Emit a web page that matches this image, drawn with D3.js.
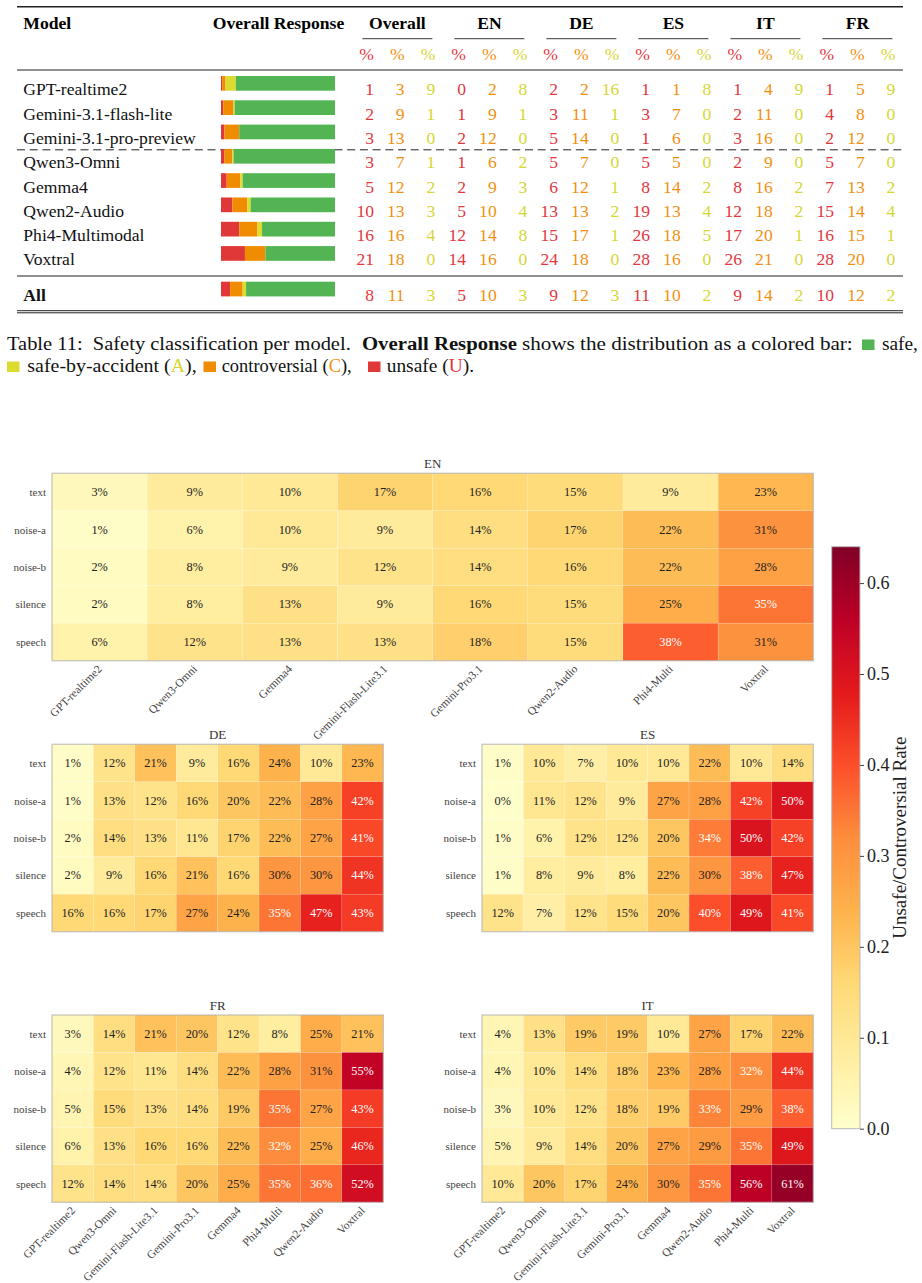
<!DOCTYPE html>
<html>
<head>
<meta charset="utf-8">
<script src="https://cdn.jsdelivr.net/npm/d3@7"></script>
<style>
  body { margin: 0; background: #fff; }
  svg { display: block; }
</style>
</head>
<body>
<div id="fig"></div>
<script>
// ===== table data =====
const tableModels = ["GPT-realtime2", "Gemini-3.1-flash-lite", "Gemini-3.1-pro-preview", "Qwen3-Omni",
  "Gemma4", "Qwen2-Audio", "Phi4-Multimodal", "Voxtral"];
const tableGroups = ["Overall", "EN", "DE", "ES", "IT", "FR"];
// U, C, A for each group, in the order of tableGroups
const tableValues = [
  [1, 3, 9, 0, 2, 8, 2, 2, 16, 1, 1, 8, 1, 4, 9, 1, 5, 9],
  [2, 9, 1, 1, 9, 1, 3, 11, 1, 3, 7, 0, 2, 11, 0, 4, 8, 0],
  [3, 13, 0, 2, 12, 0, 5, 14, 0, 1, 6, 0, 3, 16, 0, 2, 12, 0],
  [3, 7, 1, 1, 6, 2, 5, 7, 0, 5, 5, 0, 2, 9, 0, 5, 7, 0],
  [5, 12, 2, 2, 9, 3, 6, 12, 1, 8, 14, 2, 8, 16, 2, 7, 13, 2],
  [10, 13, 3, 5, 10, 4, 13, 13, 2, 19, 13, 4, 12, 18, 2, 15, 14, 4],
  [16, 16, 4, 12, 14, 8, 15, 17, 1, 26, 18, 5, 17, 20, 1, 16, 15, 1],
  [21, 18, 0, 14, 16, 0, 24, 18, 0, 28, 16, 0, 26, 21, 0, 28, 20, 0]
];
const allValues = [8, 11, 3, 5, 10, 3, 9, 12, 3, 11, 10, 2, 9, 14, 2, 10, 12, 2];

// ===== heatmap data =====
const conditions = ["text", "noise-a", "noise-b", "silence", "speech"];
const enModels = ["GPT-realtime2", "Qwen3-Omni", "Gemma4", "Gemini-Flash-Lite3.1", "Gemini-Pro3.1", "Qwen2-Audio", "Phi4-Multi", "Voxtral"];
const enRates = [
  [3, 9, 10, 17, 16, 15, 9, 23],
  [1, 6, 10, 9, 14, 17, 22, 31],
  [2, 8, 9, 12, 14, 16, 22, 28],
  [2, 8, 13, 9, 16, 15, 25, 35],
  [6, 12, 13, 13, 18, 15, 38, 31]
];
const deModels = ["GPT-realtime2", "Qwen3-Omni", "Gemini-Flash-Lite3.1", "Gemma4", "Gemini-Pro3.1", "Qwen2-Audio", "Phi4-Multi", "Voxtral"];
const deRates = [
  [1, 12, 21, 9, 16, 24, 10, 23],
  [1, 13, 12, 16, 20, 22, 28, 42],
  [2, 14, 13, 11, 17, 22, 27, 41],
  [2, 9, 16, 21, 16, 30, 30, 44],
  [16, 16, 17, 27, 24, 35, 47, 43]
];
const esModels = ["GPT-realtime2", "Gemini-Pro3.1", "Qwen3-Omni", "Gemini-Flash-Lite3.1", "Gemma4", "Qwen2-Audio", "Phi4-Multi", "Voxtral"];
const esRates = [
  [1, 10, 7, 10, 10, 22, 10, 14],
  [0, 11, 12, 9, 27, 28, 42, 50],
  [1, 6, 12, 12, 20, 34, 50, 42],
  [1, 8, 9, 8, 22, 30, 38, 47],
  [12, 7, 12, 15, 20, 40, 49, 41]
];
const frModels = ["GPT-realtime2", "Qwen3-Omni", "Gemini-Flash-Lite3.1", "Gemini-Pro3.1", "Gemma4", "Phi4-Multi", "Qwen2-Audio", "Voxtral"];
const frRates = [
  [3, 14, 21, 20, 12, 8, 25, 21],
  [4, 12, 11, 14, 22, 28, 31, 55],
  [5, 15, 13, 14, 19, 35, 27, 43],
  [6, 13, 16, 16, 22, 32, 25, 46],
  [12, 14, 14, 20, 25, 35, 36, 52]
];
const itModels = ["GPT-realtime2", "Qwen3-Omni", "Gemini-Flash-Lite3.1", "Gemini-Pro3.1", "Gemma4", "Qwen2-Audio", "Phi4-Multi", "Voxtral"];
const itRates = [
  [4, 13, 19, 19, 10, 27, 17, 22],
  [4, 10, 14, 18, 23, 28, 32, 44],
  [3, 10, 12, 18, 19, 33, 29, 38],
  [5, 9, 14, 20, 27, 29, 35, 49],
  [10, 20, 17, 24, 30, 35, 56, 61]
];
const colorbarTicks = [0, 0.1, 0.2, 0.3, 0.4, 0.5, 0.6];

// couleurs
const RED = "#e03838", ORANGE = "#f08c00", YELLOW = "#dcdc30", GREEN = "#52b452";
const TXT_RED = "#e3363e", TXT_ORANGE = "#f2900e", TXT_YELLOW = "#d6d632";
const serif = "'Liberation Serif','Times New Roman',serif";

const svg = d3.select("#fig").append("svg")
  .attr("width", 922).attr("height", 1283)
  .style("font-family", serif);

/* ===== TABLE ===== */
const colX = d3.scaleLinear().domain([0, 17]).range([366.7, 366.7 + 17 * 30.67]);
const rowY = d3.scaleLinear().domain([0, 7]).range([89.3, 259.4]);
const barX = d3.scaleLinear().domain([0, 100]).range([221, 335]);
const numColors = [TXT_RED, TXT_ORANGE, TXT_YELLOW];
const fs = 17.6;

const rule = (y, w, dash) => svg.append("line")
  .attr("x1", 17).attr("x2", 903).attr("y1", y).attr("y2", y)
  .attr("stroke", "#222").attr("stroke-width", w)
  .attr("stroke-dasharray", dash || null);

rule(6.7, 1.6);
rule(70, 1.1);
rule(149.8, 1, "8,4.7");
rule(276, 1.1);
rule(310.7, 1);
rule(312.8, 1);

// header
svg.append("text").attr("x", 23.3).attr("y", 29).attr("font-size", fs).attr("font-weight", "bold").text("Model");
svg.append("text").attr("x", 278.5).attr("y", 29).attr("font-size", fs).attr("font-weight", "bold")
  .attr("text-anchor", "middle").text("Overall Response");

tableGroups.forEach((g, gi) => {
  const cx = colX(gi * 3 + 1);
  svg.append("text").attr("x", cx).attr("y", 29).attr("font-size", fs).attr("font-weight", "bold")
    .attr("text-anchor", "middle").text(g);
  svg.append("line").attr("x1", cx - 35).attr("x2", cx + 35).attr("y1", 38.7).attr("y2", 38.7)
    .attr("stroke", "#222").attr("stroke-width", 0.9);
  for (let k = 0; k < 3; k++) {
    svg.append("text").attr("x", colX(gi * 3 + k) + 7.3).attr("y", 59.5)
      .attr("font-size", fs).attr("text-anchor", "end").attr("fill", numColors[k]).text("%");
  }
});

function tableRow(name, vals, cy, bold) {
  svg.append("text").attr("x", 23.3).attr("y", cy + 6).attr("font-size", fs)
    .attr("font-weight", bold ? "bold" : null).attr("fill", "#111").text(name);
  // barre empilée: unsafe, controversial, by-accident, safe
  const parts = [vals[0], vals[1], vals[2], 100 - vals[0] - vals[1] - vals[2]];
  const cols = [RED, ORANGE, YELLOW, GREEN];
  let acc = 0;
  parts.forEach((p, i) => {
    svg.append("rect").attr("x", barX(acc)).attr("width", barX(acc + p) - barX(acc))
      .attr("y", cy - 13.3).attr("height", 14.7).attr("fill", cols[i]);
    acc += p;
  });
  vals.forEach((v, j) => {
    svg.append("text").attr("x", colX(j) + 7.3).attr("y", cy + 6).attr("font-size", fs)
      .attr("text-anchor", "end").attr("fill", numColors[j % 3]).text(v);
  });
}
tableModels.forEach((m, i) => tableRow(m, tableValues[i], rowY(i), false));
tableRow("All", allValues, 295, true);

/* ===== CAPTION ===== */
const capFs = 19;
// chaque morceau est un texte séparé, le groupe est compressé pour tenir la largeur voulue
function capText(x, y, len, parts, bold) {
  const g = svg.append("g");
  let cx = 0;
  parts.forEach(p => {
    const t = g.append("text").attr("x", cx).attr("y", 0).attr("font-size", capFs)
      .attr("font-weight", bold ? "bold" : null).attr("fill", p[1] || "#111")
      .style("white-space", "pre").text(p[0]);
    cx += t.node().getComputedTextLength();
  });
  g.attr("transform", `translate(${x},${y}) scale(${len / cx},1)`);
}
const square = (x, y, c) => svg.append("rect").attr("x", x).attr("y", y - 10.5)
  .attr("width", 12.5).attr("height", 10.5).attr("fill", c);

capText(7, 350, 344, [["Table 11:  Safety classification per model."]]);
capText(362, 350, 155, [["Overall Response"]], true);
capText(522, 350, 331, [["shows the distribution as a colored bar:"]]);
square(862, 350, GREEN);
capText(882, 350, 36, [["safe,"]]);
square(7, 372, YELLOW);
capText(27.3, 372, 169.4, [["safe-by-accident ("], ["A", TXT_YELLOW], ["),"]]);
square(203.5, 372, ORANGE);
capText(221.7, 372, 130, [["controversial ("], ["C", TXT_ORANGE], ["),"]]);
square(368, 372, RED);
capText(386.7, 372, 87.3, [["unsafe ("], ["U", TXT_RED], [")."]]);

/* ===== HEATMAPS ===== */
const vmax = 0.64;
const ylorrd = d3.schemeYlOrRd[9];
const color = d3.scaleLinear()
  .domain(d3.range(9).map(i => i / 8 * vmax))
  .range(ylorrd)
  .clamp(true);

function heatmap(title, models, rates, x0, x1, y0, y1, showX) {
  const g = svg.append("g");
  const x = d3.scaleBand().domain(models).range([x0, x1]);
  const y = d3.scaleBand().domain(conditions).range([y0, y1]);

  const cells = [];
  rates.forEach((row, i) => row.forEach((v, j) => cells.push({r: conditions[i], m: models[j], v: v})));

  g.selectAll("rect.cell").data(cells).enter().append("rect")
    .attr("class", "cell")
    .attr("x", d => x(d.m)).attr("y", d => y(d.r))
    .attr("width", x.bandwidth()).attr("height", y.bandwidth())
    .attr("fill", d => color(d.v / 100))
    .attr("stroke", "#fff").attr("stroke-opacity", 0.25).attr("stroke-width", 0.5);

  g.selectAll("text.val").data(cells).enter().append("text")
    .attr("class", "val")
    .attr("x", d => x(d.m) + x.bandwidth() / 2)
    .attr("y", d => y(d.r) + y.bandwidth() / 2 + 4)
    .attr("text-anchor", "middle").attr("font-size", 12.3)
    .attr("fill", d => d.v >= 32 ? "#fff" : "#222")
    .text(d => d.v + "%");

  g.append("rect").attr("x", x0).attr("y", y0).attr("width", x1 - x0).attr("height", y1 - y0)
    .attr("fill", "none").attr("stroke", "#aaa").attr("stroke-opacity", 0.6).attr("stroke-width", 1.4);

  g.selectAll("text.row").data(conditions).enter().append("text")
    .attr("class", "row")
    .attr("x", x0 - 6).attr("y", d => y(d) + y.bandwidth() / 2 + 4)
    .attr("text-anchor", "end").attr("font-size", 11).attr("fill", "#444")
    .text(d => d);

  g.append("text").attr("x", (x0 + x1) / 2).attr("y", y0 - 5)
    .attr("text-anchor", "middle").attr("font-size", 13).attr("fill", "#333").text(title);

  if (showX) {
    g.selectAll("text.col").data(models).enter().append("text")
      .attr("class", "col")
      .attr("transform", d => `translate(${x(d) + x.bandwidth() / 2 + 3},${y1 + 9}) rotate(-45)`)
      .attr("text-anchor", "end").attr("font-size", 11.5).attr("fill", "#444")
      .text(d => d);
  }
}

heatmap("EN", enModels, enRates, 52, 813.3, 473.3, 660.7, true);
heatmap("DE", deModels, deRates, 52, 383.3, 744.3, 931.7, false);
heatmap("ES", esModels, esRates, 482, 813.3, 744.3, 931.7, false);
heatmap("FR", frModels, frRates, 52, 383.3, 1015, 1202.3, true);
heatmap("IT", itModels, itRates, 482, 813.3, 1015, 1202.3, true);

/* ===== COLORBAR ===== */
const cbY = d3.scaleLinear().domain([0, vmax]).range([1128.7, 546.7]);
const grad = svg.append("defs").append("linearGradient").attr("id", "cbGrad")
  .attr("x1", 0).attr("x2", 0).attr("y1", 1).attr("y2", 0);
grad.selectAll("stop").data(d3.range(9)).enter().append("stop")
  .attr("offset", d => d / 8).attr("stop-color", d => ylorrd[d]);

svg.append("rect").attr("x", 831.7).attr("y", cbY(vmax)).attr("width", 28.3)
  .attr("height", cbY(0) - cbY(vmax)).attr("fill", "url(#cbGrad)")
  .attr("stroke", "#bbb").attr("stroke-width", 1);

const cbAxis = svg.append("g").attr("transform", "translate(860,0)")
  .call(d3.axisRight(cbY).tickValues(colorbarTicks).tickFormat(d3.format(".1f")).tickSize(4).tickPadding(3));
cbAxis.select(".domain").remove();
cbAxis.selectAll("text").attr("font-size", 18).attr("font-family", serif).attr("fill", "#222");
cbAxis.selectAll("line").attr("stroke", "#444");

svg.append("text")
  .attr("transform", `translate(906,${(cbY(0) + cbY(vmax)) / 2}) rotate(-90)`)
  .attr("text-anchor", "middle").attr("font-size", 19).attr("fill", "#222")
  .text("Unsafe/Controversial Rate");
</script>
</body>
</html>
